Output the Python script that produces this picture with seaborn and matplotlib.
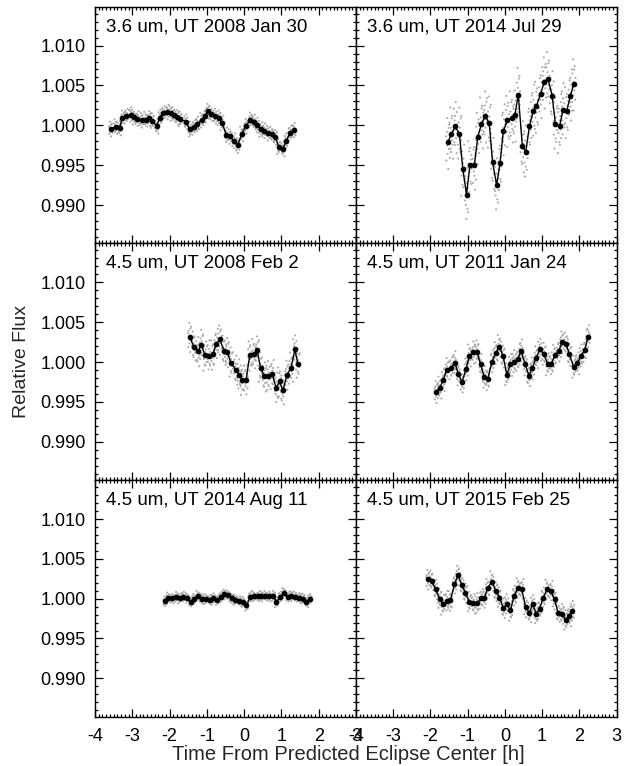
import numpy as np
import pandas as pd
import matplotlib
matplotlib.use("Agg")
import matplotlib.pyplot as plt
import seaborn as sns
from matplotlib.ticker import MultipleLocator, FormatStrFormatter

sns.set_theme(style="ticks")
plt.rcParams["font.family"] = ["Liberation Sans", "DejaVu Sans"]
plt.rcParams["axes.unicode_minus"] = False

# ---- binned light curves (time from predicted eclipse center [h], relative flux) ----
t_36_2008 = [-3.58, -3.45, -3.34, -3.27, -3.16, -3.04, -2.96, -2.87, -2.75, -2.64,
             -2.55, -2.46, -2.35, -2.26, -2.18, -2.06, -1.97, -1.88, -1.79, -1.71,
             -1.57, -1.46, -1.35, -1.26, -1.14, -1.05, -0.97, -0.90, -0.79, -0.68,
             -0.59, -0.48, -0.37, -0.28, -0.17, -0.07, 0.04, 0.17, 0.26, 0.35,
             0.44, 0.53, 0.64, 0.75, 0.84, 0.93, 1.04, 1.13, 1.23, 1.33]
f_36_2008 = [0.99958, 0.99979, 0.99970, 1.00089, 1.00119, 1.00131, 1.00106, 1.00081, 1.00068, 1.00072,
             1.00089, 1.00055, 0.99992, 1.00097, 1.00153, 1.00161, 1.00153, 1.00131, 1.00106, 1.00076,
             1.00047, 0.99949, 0.99979, 1.00013, 1.00068, 1.00119, 1.00182, 1.00140, 1.00119, 1.00089,
             1.00034, 0.99877, 0.99864, 0.99801, 0.99750, 0.99886, 0.99992, 1.00064, 1.00047, 1.00000,
             0.99949, 0.99928, 0.99907, 0.99886, 0.99852, 0.99729, 0.99708, 0.99801, 0.99907, 0.99936]

t_36_2014 = [-1.53, -1.44, -1.33, -1.22, -1.13, -1.03, -0.94, -0.82, -0.73, -0.63,
             -0.53, -0.42, -0.33, -0.22, -0.13, -0.04, 0.07, 0.18, 0.27, 0.36,
             0.47, 0.56, 0.66, 0.76, 0.85, 0.96, 1.06, 1.16, 1.27, 1.36,
             1.47, 1.56, 1.66, 1.76, 1.85]
f_36_2014 = [0.99788, 0.99886, 0.99987, 0.99886, 0.99453, 0.99131, 0.99496, 0.99496, 0.99852, 1.00013,
             1.00119, 1.00025, 0.99538, 0.99250, 0.99525, 0.99928, 1.00064, 1.00089, 1.00131, 1.00386,
             0.99746, 0.99661, 0.99987, 1.00174, 1.00242, 1.00394, 1.00547, 1.00581, 1.00373, 1.00013,
             0.99987, 1.00191, 1.00174, 1.00364, 1.00521]

t_45_2008 = [-1.46, -1.35, -1.24, -1.15, -1.05, -0.95, -0.84, -0.75, -0.65, -0.54,
             -0.46, -0.35, -0.23, -0.14, -0.05, 0.05, 0.15, 0.26, 0.35, 0.44,
             0.54, 0.64, 0.75, 0.86, 0.95, 1.04, 1.15, 1.26, 1.36, 1.44]
f_45_2008 = [1.00318, 1.00191, 1.00140, 1.00212, 1.00085, 1.00081, 1.00097, 1.00225, 1.00284, 1.00140,
             1.00127, 0.99992, 0.99907, 0.99843, 0.99780, 0.99771, 1.00085, 1.00097, 1.00148, 0.99928,
             0.99822, 0.99822, 0.99852, 0.99674, 0.99758, 0.99644, 0.99843, 0.99928, 1.00161, 0.99979]

t_45_2011 = [-1.845, -1.756, -1.649, -1.560, -1.444, -1.346, -1.248, -1.150, -1.044, -0.955,
             -0.848, -0.750, -0.652, -0.554, -0.456, -0.349, -0.242, -0.144, -0.046, 0.052,
             0.150, 0.248, 0.346, 0.435, 0.542, 0.648, 0.737, 0.844, 0.942, 1.049,
             1.147, 1.245, 1.343, 1.450, 1.539, 1.646, 1.735, 1.851, 1.949, 2.046,
             2.144, 2.233]
f_45_2011 = [0.99631, 0.99674, 0.99780, 0.99907, 0.99928, 0.99992, 0.99852, 0.99750, 0.99915, 1.00076,
             1.00127, 1.00127, 0.99970, 0.99809, 0.99792, 1.00004, 1.00119, 1.00195, 1.00076, 0.99843,
             0.99970, 1.00004, 1.00034, 1.00140, 0.99979, 0.99831, 0.99928, 1.00055, 1.00161, 1.00097,
             0.99979, 0.99979, 1.00085, 1.00140, 1.00254, 1.00225, 1.00097, 0.99936, 0.99992, 1.00076,
             1.00148, 1.00318]

t_45_2014 = [-2.125, -2.036, -1.929, -1.821, -1.732, -1.634, -1.527, -1.438, -1.348, -1.241,
             -1.143, -1.036, -0.929, -0.830, -0.723, -0.634, -0.527, -0.429, -0.339, -0.232,
             -0.125, -0.036, 0.063, 0.170, 0.259, 0.366, 0.464, 0.571, 0.670, 0.777,
             0.866, 0.973, 1.071, 1.170, 1.268, 1.375, 1.482, 1.580, 1.670, 1.759]
f_45_2014 = [0.99970, 1.00013, 1.00004, 1.00021, 1.00004, 1.00025, 1.00013, 0.99962, 1.00000, 1.00034,
             1.00000, 0.99992, 0.99987, 1.00004, 0.99987, 1.00021, 1.00055, 1.00042, 1.00004, 0.99983,
             0.99970, 0.99958, 0.99915, 1.00025, 1.00034, 1.00030, 1.00030, 1.00034, 1.00030, 1.00034,
             0.99958, 1.00025, 1.00076, 1.00021, 1.00034, 1.00025, 1.00013, 1.00000, 0.99958, 0.99996]

t_45_2015 = [-2.068, -1.970, -1.863, -1.756, -1.667, -1.560, -1.462, -1.355, -1.257, -1.159,
             -1.061, -0.955, -0.848, -0.750, -0.643, -0.554, -0.465, -0.349, -0.242, -0.144,
             -0.046, 0.052, 0.150, 0.248, 0.354, 0.452, 0.559, 0.657, 0.746, 0.844,
             0.933, 1.031, 1.138, 1.236, 1.334, 1.432, 1.539, 1.637, 1.735, 1.815]
f_45_2015 = [1.00246, 1.00225, 1.00119, 1.00000, 0.99928, 0.99970, 0.99979, 1.00182, 1.00297, 1.00174,
             1.00076, 0.99958, 0.99941, 0.99941, 1.00004, 1.00004, 1.00131, 1.00216, 1.00097, 1.00013,
             0.99886, 0.99928, 0.99852, 1.00034, 1.00140, 1.00119, 0.99894, 0.99822, 0.99928, 0.99809,
             0.99873, 1.00013, 1.00119, 1.00097, 0.99992, 0.99822, 0.99814, 0.99729, 0.99784, 0.99843]

# per-visit scatter of the unbinned photometry (relative flux)
scatter_amp = [0.0006, 0.0021, 0.0012, 0.0009, 0.0004, 0.0008]

# unbinned frames around each bin: time offset (fraction of bin) and flux residual (units of scatter_amp)
frame_dt = [-0.45, -0.38, -0.30, -0.21, -0.14, -0.06, 0.02, 0.09, 0.17, 0.25, 0.33, 0.41, 0.48]
frame_df = [0.35, -1.10, 0.62, -0.20, 1.45, -0.70, 0.10, -1.60, 0.85, -0.40, 1.05, -0.05, -0.95]

titles = ["3.6 um, UT 2008 Jan 30", "3.6 um, UT 2014 Jul 29",
          "4.5 um, UT 2008 Feb 2", "4.5 um, UT 2011 Jan 24",
          "4.5 um, UT 2014 Aug 11", "4.5 um, UT 2015 Feb 25"]
times = [t_36_2008, t_36_2014, t_45_2008, t_45_2011, t_45_2014, t_45_2015]
fluxes = [f_36_2008, f_36_2014, f_45_2008, f_45_2011, f_45_2014, f_45_2015]

W, H = 634, 766
fig = plt.figure(figsize=(W / 100, H / 100), dpi=100)
x_edges = [95, 356, 616.5]
y_edges = [6.5, 243.3, 480.1, 716.5]

n = len(frame_dt)
for k in range(6):
    row, col = divmod(k, 2)
    x0, x1 = x_edges[col], x_edges[col + 1]
    ytop, ybot = y_edges[row], y_edges[row + 1]
    ax = fig.add_axes([x0 / W, 1 - ybot / H, (x1 - x0) / W, (ybot - ytop) / H])

    t = np.asarray(times[k])
    f = np.asarray(fluxes[k])
    step = np.median(np.diff(t))
    raw_t, raw_f = [], []
    for i in range(len(t)):
        sgn = 1 if i % 2 == 0 else -1
        for j in range(n):
            raw_t.append(t[i] + frame_dt[j] * step)
            raw_f.append(f[i] + sgn * frame_df[(j + 5 * i) % n] * scatter_amp[k])
    raw = pd.DataFrame({"t": raw_t, "f": raw_f})
    binned = pd.DataFrame({"t": t, "f": f})

    sns.scatterplot(data=raw, x="t", y="f", ax=ax, s=2.2, color="#a8a8a8",
                    edgecolor="none", linewidth=0, zorder=2)
    sns.lineplot(data=binned, x="t", y="f", ax=ax, sort=False, estimator=None,
                 color="black", lw=1.0, marker="o", markersize=3.3,
                 markeredgecolor="black", zorder=3)

    ax.set_xlim(-4, 3)
    ax.set_ylim(0.9852, 1.0149)
    ax.xaxis.set_major_locator(MultipleLocator(1))
    ax.xaxis.set_minor_locator(MultipleLocator(0.1))
    ax.yaxis.set_major_locator(MultipleLocator(0.005))
    ax.yaxis.set_minor_locator(MultipleLocator(0.001))
    ax.yaxis.set_major_formatter(FormatStrFormatter("%.3f"))
    ax.xaxis.set_major_formatter(FormatStrFormatter("%d"))
    ax.tick_params(which="both", direction="in", top=True, right=True,
                   colors="black", labelsize=13, width=0.9)
    ax.tick_params(which="major", length=5.5)
    ax.tick_params(which="minor", length=2.5)
    ax.tick_params(axis="x", which="major", pad=8)
    ax.tick_params(axis="y", which="major", pad=6.5)
    for sp in ax.spines.values():
        sp.set_color("black")
        sp.set_linewidth(1.0)
    if col == 1:
        ax.tick_params(labelleft=False)
    if row < 2:
        ax.tick_params(labelbottom=False)
    ax.set_xlabel("")
    ax.set_ylabel("")
    ax.text(11 / (x1 - x0), 1 - 20 / (ybot - ytop), titles[k], transform=ax.transAxes,
            ha="left", va="center", fontsize=13.5, color="black")

fig.text(22 / W, 1 - 361 / H, "Relative Flux", rotation=90, ha="center", va="center",
         fontsize=14)
fig.text(348 / W, 1 - 754 / H, "Time From Predicted Eclipse Center [h]", ha="center",
         va="center", fontsize=14.5)

fig.savefig("out.png", dpi=100, facecolor="white")
